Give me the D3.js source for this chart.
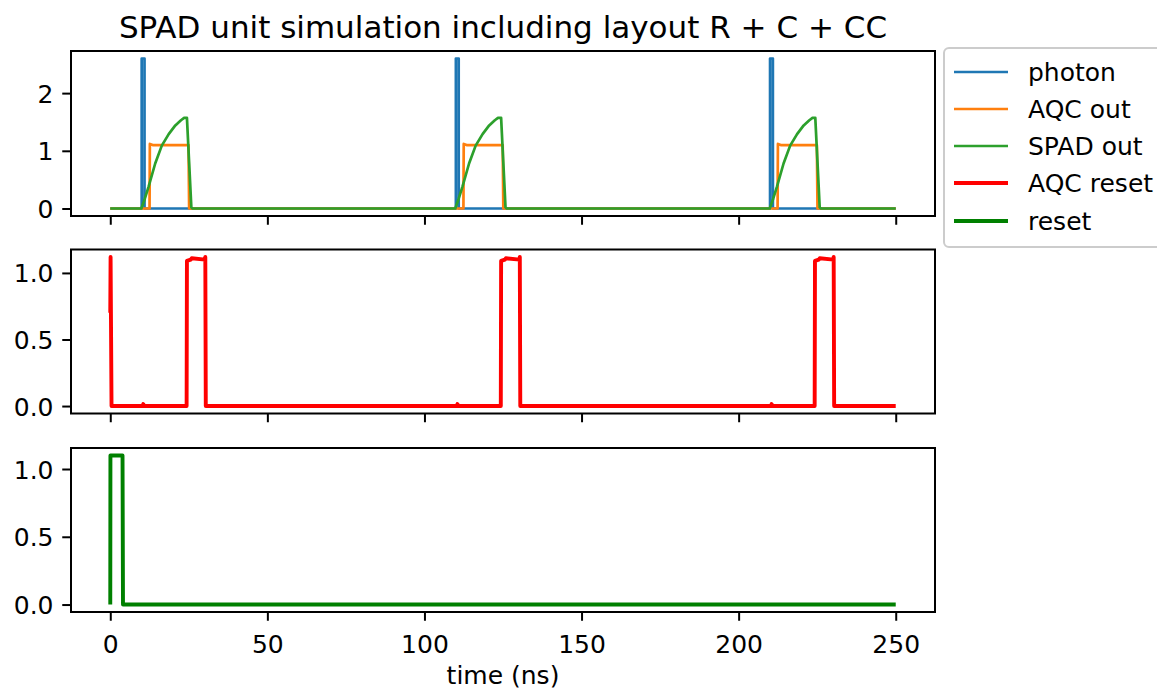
<!DOCTYPE html>
<html>
<head>
<meta charset="utf-8">
<script src="https://cdn.jsdelivr.net/npm/d3@7"></script>
<style>
  html, body { margin: 0; padding: 0; background: #fff; }
  svg { display: block; font-family: "DejaVu Sans", sans-serif; }
</style>
</head>
<body>
<svg id="chart" width="1157" height="689"></svg>
<script>
// ---------------- data ----------------
const titleText = "SPAD unit simulation including layout R + C + CC";
const xLabelText = "time (ns)";
const xTicks = [0, 50, 100, 150, 200, 250];
const yTicksTop = [0, 1, 2];
const yTicksMid = [0, 0.5, 1.0];
const yTicksBot = [0, 0.5, 1.0];
const legendNames = ["photon", "AQC out", "SPAD out", "AQC reset", "reset"];

const photonT = [0, 10, 10, 10.9, 10.9, 110, 110, 110.9, 110.9, 210, 210, 210.9, 210.9, 250];
const photonV = [0, 0, 2.6, 2.6, 0, 0, 2.6, 2.6, 0, 0, 2.6, 2.6, 0, 0];

const aqcOutT = [0, 12.5, 12.6, 13.5, 24.9, 25.1,
                 112.4, 112.5, 113.4, 124.9, 125.1,
                 212.4, 212.5, 213.4, 224.9, 225.1, 250];
const aqcOutV = [0, 0, 1.12, 1.1, 1.1, 0,
                 0, 1.12, 1.1, 1.1, 0,
                 0, 1.12, 1.1, 1.1, 0, 0];

const spadOutT = [0, 9.9, 11, 12.2, 14.3, 16.4, 18.6, 20.7, 22.5, 23.5, 24.4, 25.1, 25.8, 26.2,
                  109.8, 110.9, 112.1, 114.2, 116.3, 118.5, 120.6, 122.4, 123.4, 124.4, 125.1, 125.8, 126.2,
                  209.9, 211, 212.2, 214.3, 216.4, 218.6, 220.7, 222.5, 223.5, 224.4, 225.1, 225.8, 226.2, 250];
const spadOutV = [0, 0, 0.17, 0.38, 0.78, 1.09, 1.29, 1.44, 1.53, 1.57, 1.57, 0.8, 0.02, 0,
                  0, 0.17, 0.38, 0.78, 1.09, 1.29, 1.44, 1.53, 1.57, 1.57, 0.8, 0.02, 0,
                  0, 0.17, 0.38, 0.78, 1.09, 1.29, 1.44, 1.53, 1.57, 1.57, 0.8, 0.02, 0, 0];

const aqcResetT = [0, 0.1, 0.4, 10.3, 10.5, 10.8, 24.3, 24.4, 25.6, 25.9, 30.2, 30.25, 30.4,
                   110.3, 110.5, 110.8, 124.3, 124.4, 125.6, 125.9, 130.3, 130.35, 130.5,
                   210.3, 210.5, 210.8, 224.2, 224.3, 225.5, 225.8, 230.2, 230.25, 230.4, 250];
const aqcResetV = [0.7, 1.12, 0, 0, 0.015, 0, 0, 1.09, 1.1, 1.11, 1.1, 1.12, 0,
                   0, 0.015, 0, 0, 1.09, 1.1, 1.11, 1.1, 1.12, 0,
                   0, 0.015, 0, 0, 1.09, 1.1, 1.11, 1.1, 1.12, 0, 0];

const resetT = [0, 0.05, 3.9, 4.05, 250];
const resetV = [0, 1.1, 1.1, 0, 0];

const colors = ["#1f77b4", "#ff7f0e", "#2ca02c", "#ff0000", "#008000"];
const widths = [2.7, 2.7, 2.7, 3.9, 3.9];

// ---------------- layout ----------------
const svg = d3.select("#chart");
const left = 71, right = 935;
const panels = [
  { top: 51, bottom: 216, ticks: yTicksTop, fmt: d3.format("d"),
    series: [[photonT, photonV, 0], [aqcOutT, aqcOutV, 1], [spadOutT, spadOutV, 2]] },
  { top: 249.5, bottom: 413.5, ticks: yTicksMid, fmt: d3.format(".1f"),
    series: [[aqcResetT, aqcResetV, 3]] },
  { top: 448, bottom: 612, ticks: yTicksBot, fmt: d3.format(".1f"),
    series: [[resetT, resetV, 4]] }
];

const fs = 25;
const tickLen = 8.75, tickPad = 8.75;

const x = d3.scaleLinear().domain([-12.5, 262.5]).range([left, right]);

panels.forEach((p, pi) => {
  let lo = Infinity, hi = -Infinity;
  p.series.forEach(s => { lo = Math.min(lo, d3.min(s[1])); hi = Math.max(hi, d3.max(s[1])); });
  const pad = (hi - lo) * 0.05;
  const y = d3.scaleLinear().domain([lo - pad, hi + pad]).range([p.bottom, p.top]);

  const clipId = "clip" + pi;
  svg.append("clipPath").attr("id", clipId).append("rect")
    .attr("x", left).attr("y", p.top).attr("width", right - left).attr("height", p.bottom - p.top);

  const g = svg.append("g").attr("clip-path", `url(#${clipId})`);
  const line = d3.line().x(d => x(d[0])).y(d => y(d[1]));
  p.series.forEach(s => {
    const pts = s[0].map((t, i) => [t, s[1][i]]);
    g.append("path").datum(pts).attr("d", line)
      .attr("fill", "none").attr("stroke", colors[s[2]])
      .attr("stroke-width", widths[s[2]])
      .attr("stroke-linejoin", "round").attr("stroke-linecap", "butt");
  });

  // x axis
  const xa = d3.axisBottom(x).tickValues(xTicks).tickSize(tickLen).tickSizeOuter(0).tickPadding(tickPad)
    .tickFormat(pi === 2 ? d3.format("d") : () => "");
  const gx = svg.append("g").attr("transform", `translate(0,${p.bottom})`).call(xa);
  gx.select(".domain").remove();
  gx.selectAll(".tick line").attr("stroke", "#000").attr("stroke-width", 2);
  gx.selectAll(".tick text").attr("font-size", fs).attr("font-family", "DejaVu Sans").attr("fill", "#000").attr("dy", "0.95em");

  // y axis
  const ya = d3.axisLeft(y).tickValues(p.ticks).tickSize(tickLen).tickSizeOuter(0).tickPadding(tickPad)
    .tickFormat(p.fmt);
  const gy = svg.append("g").attr("transform", `translate(${left},0)`).call(ya);
  gy.select(".domain").remove();
  gy.selectAll(".tick line").attr("stroke", "#000").attr("stroke-width", 2);
  gy.selectAll(".tick text").attr("font-size", fs).attr("font-family", "DejaVu Sans").attr("fill", "#000").attr("dy", "0.36em");

  // spines
  svg.append("rect").attr("x", left).attr("y", p.top)
    .attr("width", right - left).attr("height", p.bottom - p.top)
    .attr("fill", "none").attr("stroke", "#000").attr("stroke-width", 2);
});

// title
svg.append("text").attr("x", (left + right) / 2).attr("y", 38)
  .attr("text-anchor", "middle").attr("font-size", 31).attr("fill", "#000").text(titleText);

// x label
svg.append("text").attr("x", (left + right) / 2).attr("y", 684)
  .attr("text-anchor", "middle").attr("font-size", fs).attr("fill", "#000").text(xLabelText);

// legend
const lg = svg.append("g");
lg.append("rect").attr("x", 944).attr("y", 48).attr("width", 240).attr("height", 199)
  .attr("rx", 5).attr("fill", "#fff").attr("fill-opacity", 0.8)
  .attr("stroke", "#cccccc").attr("stroke-width", 2);
const rowY = [72, 109, 146, 183, 221];
legendNames.forEach((name, i) => {
  lg.append("line").attr("x1", 954).attr("x2", 1008).attr("y1", rowY[i]).attr("y2", rowY[i])
    .attr("stroke", colors[i]).attr("stroke-width", widths[i]);
  lg.append("text").attr("x", 1028).attr("y", rowY[i]).attr("dy", "0.36em")
    .attr("font-size", fs).attr("fill", "#000").text(name);
});
</script>
</body>
</html>
